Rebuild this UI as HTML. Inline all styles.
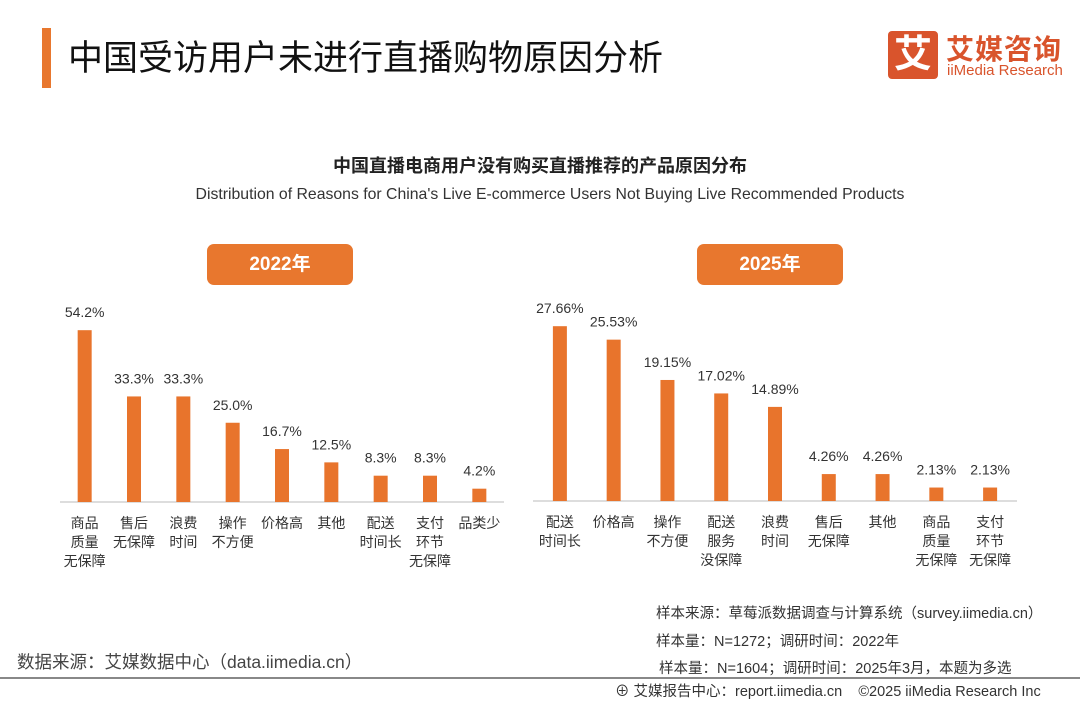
<!DOCTYPE html>
<html><head><meta charset="utf-8">
<style>
body{margin:0;width:1080px;height:702px;background:#fff;font-family:"Liberation Sans","Noto Sans CJK SC",sans-serif;position:relative;overflow:hidden;color:#222}
.abs{position:absolute}
.yr{position:absolute;background:#E8772E;color:#fff;font-weight:bold;font-size:19px;text-align:center;line-height:41px;border-radius:7px;width:146px;height:41px;top:244px}
.note{position:absolute;font-size:14.5px;color:#333}
</style></head><body>
<div class="abs" style="left:42px;top:28px;width:9px;height:60px;background:#E8772E"></div>
<div class="abs" style="left:68px;top:30px;font-size:35px;color:#111">中国受访用户未进行直播购物原因分析</div>
<div class="abs" style="left:888px;top:31px;width:50px;height:48px;background:#D9542C;border-radius:4px;color:#fff;font-size:38px;font-weight:bold;text-align:center;line-height:48px">艾</div>
<div class="abs" style="left:946px;top:28px;font-size:28px;font-weight:bold;color:#D9542C;letter-spacing:1px">艾媒咨询</div>
<div class="abs" style="left:947px;top:62px;font-size:15px;color:#D9542C">iiMedia Research</div>
<div class="abs" style="left:0;width:1080px;top:152px;text-align:center;font-size:18px;font-weight:bold">中国直播电商用户没有购买直播推荐的产品原因分布</div>
<div class="abs" style="left:0;width:1100px;top:186px;text-align:center;font-size:15.8px;color:#333">Distribution of Reasons for China's Live E-commerce Users Not Buying Live Recommended Products</div>
<div class="yr" style="left:207px">2022年</div>
<div class="yr" style="left:697px">2025年</div>
<svg class="abs" style="left:0;top:0" width="1080" height="702" id="svg"></svg>
<div class="note" style="left:656px;top:602px">样本来源：草莓派数据调查与计算系统（survey.iimedia.cn）</div>
<div class="note" style="left:656px;top:630px">样本量：N=1272；调研时间：2022年</div>
<div class="note" style="left:659px;top:657px">样本量：N=1604；调研时间：2025年3月，本题为多选</div>
<div class="abs" style="left:17px;top:649px;font-size:17.5px;color:#444">数据来源：艾媒数据中心（data.iimedia.cn）</div>
<div class="abs" style="left:0;top:677px;width:1080px;height:2px;background:#888"></div>
<div class="abs" style="left:615px;top:680px;font-size:14.5px;color:#333">⊕ 艾媒报告中心：report.iimedia.cn &nbsp;&nbsp; ©2025 iiMedia Research Inc</div>
<script>
const cats2022=[["商品","质量","无保障"],["售后","无保障"],["浪费","时间"],["操作","不方便"],["价格高"],["其他"],["配送","时间长"],["支付","环节","无保障"],["品类少"]];
const vals2022=[54.2,33.3,33.3,25.0,16.7,12.5,8.3,8.3,4.2];
const labels2022=["54.2%","33.3%","33.3%","25.0%","16.7%","12.5%","8.3%","8.3%","4.2%"];
const cats2025=[["配送","时间长"],["价格高"],["操作","不方便"],["配送","服务","没保障"],["浪费","时间"],["售后","无保障"],["其他"],["商品","质量","无保障"],["支付","环节","无保障"]];
const vals2025=[27.66,25.53,19.15,17.02,14.89,4.26,4.26,2.13,2.13];
const labels2025=["27.66%","25.53%","19.15%","17.02%","14.89%","4.26%","4.26%","2.13%","2.13%"];
const svg=document.getElementById('svg');const NS='http://www.w3.org/2000/svg';
function mk(t,a){const e=document.createElementNS(NS,t);for(const k in a)e.setAttribute(k,a[k]);svg.appendChild(e);return e;}
function draw(cats,vals,labels,x0,x1,base,scale,key){
  const ax=mk('line',{x1:x0,x2:x1,y1:base,y2:base,stroke:'#bbb','stroke-width':1});
  
  
  const step=(x1-x0)/cats.length;
  vals.forEach((v,i)=>{
    const cx=x0+step*(i+0.5),h=v*scale;
    const r=mk('rect',{x:cx-7,y:base-h,width:14,height:h,fill:'#E8742C'});
    
    
    const t=mk('text',{x:cx,y:base-h-13,'text-anchor':'middle','font-size':14,fill:'#333'});
    t.textContent=labels[i];
    
    
    cats[i].forEach((ln,j)=>{
      const c=mk('text',{x:cx,y:base+26+j*19,'text-anchor':'middle','font-size':14,fill:'#333'});
      c.textContent=ln;
      
      
    });
  });
}
draw(cats2022,vals2022,labels2022,60,504,502,3.17,'chart-2022');
draw(cats2025,vals2025,labels2025,533,1017,501,6.32,'chart-2025');
</script>
</body></html>
